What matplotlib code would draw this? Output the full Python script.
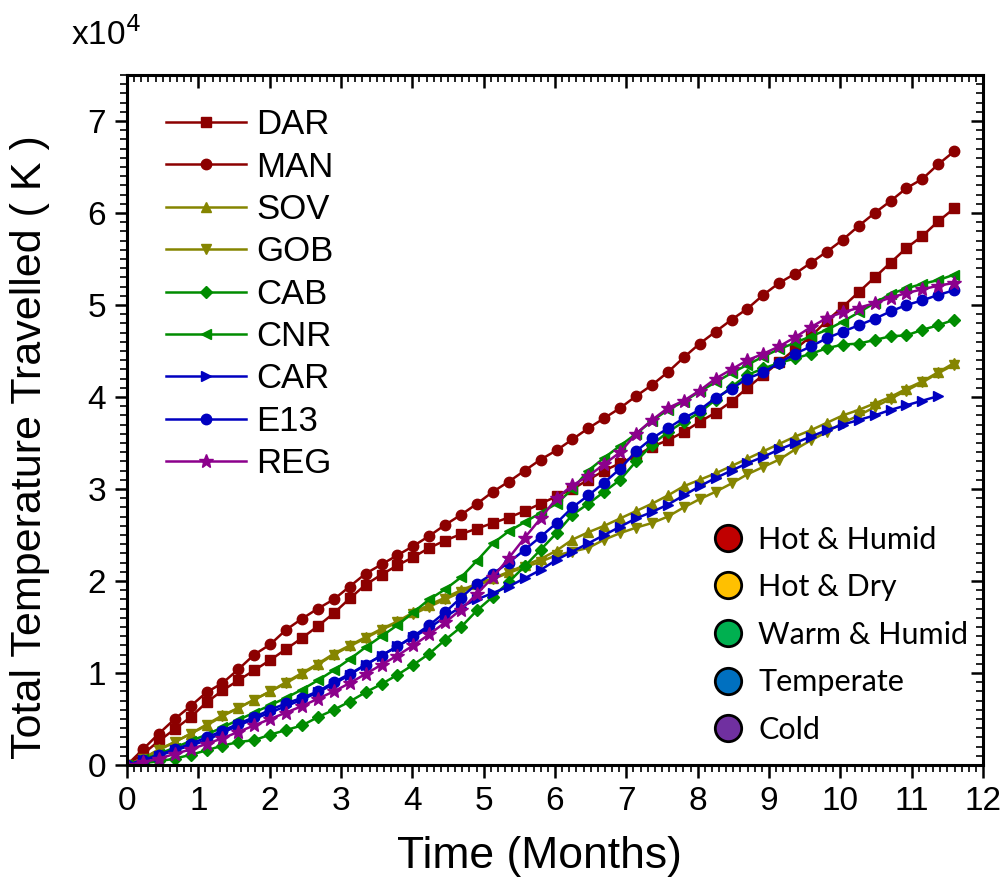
import numpy as np
import matplotlib
matplotlib.use("Agg")
import matplotlib.pyplot as plt
from matplotlib.lines import Line2D
from matplotlib.ticker import MultipleLocator

plt.rcParams["font.family"] = ["Liberation Sans", "DejaVu Sans"]

# sample spacing (about one week, in months)
X_STEP = 0.223

# values in units of 1e4 K, one per marker
DAR = [0, .12, .26, .39, .52, .68, .81, .92, 1.03, 1.14, 1.26, 1.38, 1.51, 1.65,
       1.81, 1.96, 2.07, 2.17, 2.26, 2.36, 2.44, 2.51, 2.57, 2.63, 2.69, 2.76, 2.84,
       2.92, 3.00, 3.10, 3.20, 3.28, 3.36, 3.46, 3.53, 3.62, 3.73, 3.83, 3.95, 4.10,
       4.24, 4.38, 4.52, 4.66, 4.83, 4.98, 5.14, 5.30, 5.46, 5.62, 5.75, 5.91, 6.05]
MAN = [0, .17, .34, .50, .64, .79, .89, 1.04, 1.20, 1.31, 1.47, 1.59, 1.70, 1.80,
       1.94, 2.08, 2.18, 2.28, 2.38, 2.49, 2.61, 2.72, 2.84, 2.97, 3.08, 3.20, 3.32,
       3.42, 3.54, 3.66, 3.77, 3.88, 4.01, 4.13, 4.27, 4.43, 4.58, 4.71, 4.84, 4.96,
       5.11, 5.24, 5.34, 5.46, 5.58, 5.71, 5.86, 6.00, 6.13, 6.27, 6.37, 6.53, 6.67]
SOV = [0, .07, .17, .25, .34, .44, .54, .62, .71, .80, .90, 1.00, 1.10, 1.21,
       1.30, 1.39, 1.48, 1.56, 1.66, 1.74, 1.82, 1.90, 1.97, 2.03, 2.10, 2.17, 2.24,
       2.33, 2.45, 2.53, 2.60, 2.68, 2.76, 2.84, 2.93, 3.03, 3.10, 3.17, 3.25, 3.33,
       3.41, 3.49, 3.57, 3.64, 3.72, 3.80, 3.86, 3.93, 4.00, 4.09, 4.17, 4.27, 4.37]
GOB = [0, .07, .16, .25, .34, .43, .53, .62, .71, .80, .89, .99, 1.09, 1.20,
       1.29, 1.38, 1.47, 1.55, 1.64, 1.72, 1.80, 1.88, 1.95, 2.02, 2.09, 2.15, 2.21,
       2.28, 2.32, 2.36, 2.45, 2.52, 2.58, 2.63, 2.70, 2.80, 2.89, 2.97, 3.06, 3.16,
       3.24, 3.32, 3.43, 3.53, 3.62, 3.72, 3.80, 3.89, 3.98, 4.07, 4.16, 4.26, 4.35]
CAB = [0, .02, .04, .07, .11, .16, .21, .25, .27, .33, .38, .43, .52, .60,
       .69, .79, .88, .98, 1.09, 1.21, 1.36, 1.50, 1.68, 1.83, 1.99, 2.16, 2.34,
       2.52, 2.72, 2.84, 2.97, 3.10, 3.30, 3.48, 3.62, 3.73, 3.83, 3.97, 4.11, 4.24,
       4.31, 4.37, 4.42, 4.47, 4.53, 4.57, 4.58, 4.62, 4.66, 4.67, 4.73, 4.78, 4.84]
CNR = [0, .06, .12, .19, .26, .33, .41, .49, .57, .65, .73, .82, .92, 1.03,
       1.15, 1.28, 1.40, 1.52, 1.66, 1.80, 1.91, 2.04, 2.22, 2.41, 2.54, 2.64, 2.74,
       2.84, 3.00, 3.20, 3.34, 3.47, 3.60, 3.74, 3.86, 3.95, 4.06, 4.16, 4.26, 4.35,
       4.44, 4.52, 4.59, 4.66, 4.73, 4.82, 4.92, 5.02, 5.12, 5.18, 5.23, 5.27, 5.33]
CAR = [0, .05, .10, .16, .21, .27, .35, .43, .50, .57, .64, .71, .79, .88,
       .98, 1.09, 1.19, 1.29, 1.39, 1.49, 1.61, 1.72, 1.80, 1.87, 1.94, 2.03, 2.12,
       2.23, 2.32, 2.41, 2.50, 2.59, 2.68, 2.75, 2.83, 2.93, 3.03, 3.12, 3.20, 3.28,
       3.35, 3.43, 3.50, 3.57, 3.64, 3.70, 3.75, 3.80, 3.86, 3.91, 3.96, 4.01]
E13 = [0, .05, .11, .17, .23, .30, .37, .45, .52, .60, .67, .73, .80, .90,
       .99, 1.09, 1.19, 1.29, 1.40, 1.52, 1.66, 1.82, 1.97, 2.08, 2.20, 2.34, 2.48,
       2.63, 2.80, 2.93, 3.07, 3.22, 3.41, 3.55, 3.66, 3.77, 3.86, 3.99, 4.09, 4.20,
       4.27, 4.37, 4.47, 4.55, 4.64, 4.71, 4.78, 4.85, 4.93, 5.00, 5.05, 5.11, 5.16]
REG = [0, .03, .07, .12, .17, .23, .29, .36, .43, .50, .57, .64, .72, .80,
       .89, .99, 1.09, 1.19, 1.30, 1.42, 1.55, 1.69, 1.86, 2.04, 2.25, 2.47, 2.68,
       2.90, 3.04, 3.14, 3.27, 3.40, 3.60, 3.75, 3.88, 3.96, 4.07, 4.20, 4.30, 4.40,
       4.47, 4.55, 4.65, 4.76, 4.86, 4.92, 4.97, 5.02, 5.08, 5.13, 5.17, 5.21, 5.24]

SITES = ["DAR", "MAN", "SOV", "GOB", "CAB", "CNR", "CAR", "E13", "REG"]
SERIES = [DAR, MAN, SOV, GOB, CAB, CNR, CAR, E13, REG]
COLORS = ["#8c0000", "#8c0000", "#858500", "#858500", "#008c00", "#008c00",
          "#0000c0", "#0000c0", "#8c008c"]
MARKERS = ["s", "o", "^", "v", "D", "<", ">", "o", "*"]

CLIMATES = ["Hot & Humid", "Hot & Dry", "Warm & Humid", "Temperate", "Cold"]
CLIMATE_COLORS = ["#c00000", "#ffc000", "#00b050", "#0070c0", "#7030a0"]


fig = plt.figure(figsize=(10.03, 8.84), dpi=100)
ax = fig.add_axes([0.1266, 0.1346, 0.8535, 0.7806])

for name, vals, col, mk in zip(SITES, SERIES, COLORS, MARKERS):
    x = np.arange(len(vals)) * X_STEP
    ms = 10 if mk == "*" else (6.5 if mk == "D" else 7.5)
    ax.plot(x, vals, color=col, lw=1.8, marker=mk, ms=ms, mfc=col, mec=col,
            label=name)

ax.set_xlim(0, 12)
ax.set_ylim(0, 7.5)
ax.xaxis.set_major_locator(MultipleLocator(1))
ax.xaxis.set_minor_locator(MultipleLocator(0.1))
ax.yaxis.set_major_locator(MultipleLocator(1))
ax.yaxis.set_minor_locator(MultipleLocator(0.1))
for sp in ax.spines.values():
    sp.set_linewidth(2.2)
ax.tick_params(which="major", direction="out", length=9, width=1.8,
               labelsize=24, pad=6)
ax.tick_params(which="minor", direction="out", length=5, width=1.2)
ax.tick_params(which="both", top=True, right=True)
# top/right ticks point inward, bottom/left outward
for t in ax.xaxis.get_major_ticks() + ax.xaxis.get_minor_ticks():
    t.tick2line.set_marker(3)
for t in ax.yaxis.get_major_ticks() + ax.yaxis.get_minor_ticks():
    t.tick2line.set_marker(0)

ax.set_xlabel("Time (Months)", fontsize=32, labelpad=14, x=0.482)
ax.set_ylabel("Total Temperature Travelled ( K )", fontsize=31, labelpad=27,
              y=0.46)
fig.text(0.071, 0.949, r"x10$^4$", fontsize=24)

leg1 = ax.legend(loc="upper left", bbox_to_anchor=(0.029, 0.972), frameon=False,
                 fontsize=25, handlelength=2.3, handletextpad=0.3,
                 labelspacing=0.27, borderaxespad=0)
ax.add_artist(leg1)

handles = [Line2D([], [], ls="", marker="o", ms=19, mfc=c, mec="black", mew=2)
           for c in CLIMATE_COLORS]
leg2 = ax.legend(handles, CLIMATES, loc="lower right", bbox_to_anchor=(0.997, 0.013),
                 frameon=False, handlelength=1.0, handletextpad=0.5,
                 labelspacing=0.64, borderaxespad=0,
                 prop={"family": "Lato", "size": 22})

fig.savefig("out.png", dpi=100)
